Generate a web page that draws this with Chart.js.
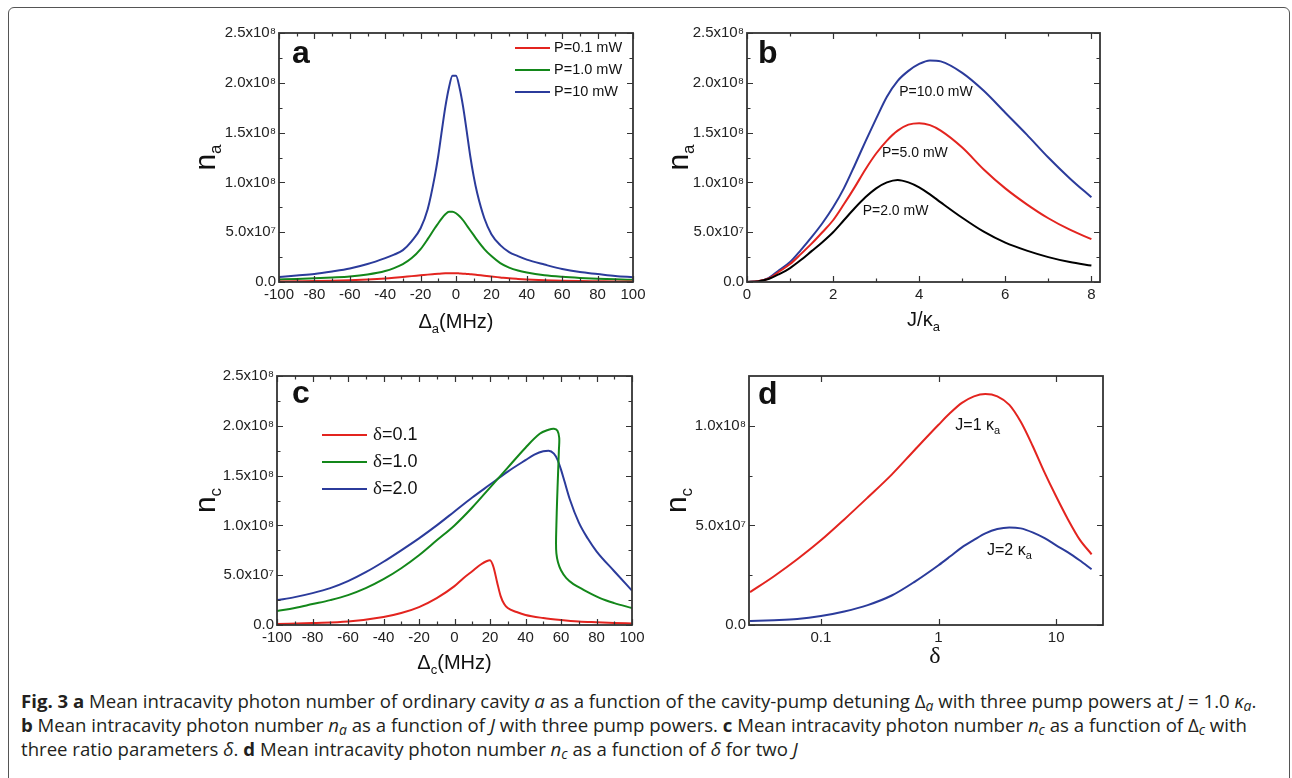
<!DOCTYPE html>
<html>
<head>
<meta charset="utf-8">
<script src="https://cdn.jsdelivr.net/npm/chart.js@4.4.1/dist/chart.umd.min.js"></script>
<style>
body { margin: 0; background: #fff; width: 1292px; height: 778px; overflow: hidden; position: relative; }
#frame { position: absolute; left: 8px; top: 7px; width: 1282px; height: 820px; border: 1.5px solid #555; border-radius: 6px; box-sizing: border-box; }
canvas { position: absolute; }
#cap { position: absolute; left: 21px; top: 689px; font-family: "Open Sans", "Noto Sans", sans-serif; font-size: 18.6px; line-height: 24px; color: #231f20; white-space: nowrap; }
#cap b { font-weight: 700; }
#cap sub { font-size: 0.75em; line-height: 0; vertical-align: -0.25em; }
</style>
</head>
<body>
<div id="frame"></div>
<canvas id="pa" width="470" height="330" style="left:180px;top:15px"></canvas>
<canvas id="pb" width="460" height="330" style="left:660px;top:15px"></canvas>
<canvas id="pc" width="470" height="330" style="left:180px;top:358px"></canvas>
<canvas id="pd" width="460" height="330" style="left:660px;top:358px"></canvas>
<div id="cap">
<div><b>Fig. 3 a</b> Mean intracavity photon number of ordinary cavity <i>a</i> as a function of the cavity-pump detuning &Delta;<sub><i>a</i></sub> with three pump powers at <i>J</i> = 1.0 <i>&kappa;<sub>a</sub></i>.</div>
<div><b>b</b> Mean intracavity photon number <i>n<sub>a</sub></i> as a function of <i>J</i> with three pump powers. <b>c</b> Mean intracavity photon number <i>n<sub>c</sub></i> as a function of &Delta;<sub><i>c</i></sub> with</div>
<div>three ratio parameters <i>&delta;</i>. <b>d</b> Mean intracavity photon number <i>n<sub>c</sub></i> as a function of <i>&delta;</i> for two <i>J</i></div>
</div>
<script>
// photon numbers below are in units of 1e8
var SC = 1e8;

// a: n_a vs detuning, three pump powers
var detA = [-100, -90, -80, -70, -60, -50, -40, -35, -30, -25, -20, -16, -12, -10, -8, -6, -4, -2, 0, 2, 4, 6, 8, 10, 12, 16, 20, 25, 30, 35, 40, 50, 60, 70, 80, 90, 100];
var naP01 = [0.006, 0.008, 0.010, 0.013, 0.018, 0.025, 0.035, 0.042, 0.050, 0.059, 0.067, 0.074, 0.080, 0.083, 0.086, 0.088, 0.089, 0.089, 0.088, 0.086, 0.084, 0.081, 0.078, 0.075, 0.071, 0.063, 0.055, 0.046, 0.037, 0.031, 0.026, 0.018, 0.013, 0.010, 0.008, 0.006, 0.005];
var naP1 = [0.025, 0.030, 0.037, 0.045, 0.055, 0.075, 0.11, 0.14, 0.18, 0.24, 0.33, 0.43, 0.54, 0.59, 0.64, 0.68, 0.705, 0.705, 0.69, 0.66, 0.62, 0.57, 0.52, 0.47, 0.42, 0.33, 0.26, 0.19, 0.145, 0.115, 0.095, 0.068, 0.052, 0.041, 0.033, 0.027, 0.022];
var naP10 = [0.05, 0.065, 0.08, 0.105, 0.135, 0.18, 0.24, 0.275, 0.32, 0.41, 0.54, 0.73, 1.06, 1.27, 1.52, 1.76, 1.95, 2.07, 2.07, 1.95, 1.76, 1.52, 1.27, 1.06, 0.89, 0.64, 0.48, 0.37, 0.30, 0.26, 0.225, 0.175, 0.13, 0.10, 0.08, 0.06, 0.048];

// b: n_a vs J/kappa_a
var jRatio = [0, 0.25, 0.5, 0.75, 1, 1.25, 1.5, 1.75, 2, 2.25, 2.5, 2.75, 3, 3.25, 3.5, 3.75, 4, 4.25, 4.5, 5, 5.5, 6, 6.5, 7, 7.5, 8];
var nbP2 = [0, 0.006, 0.03, 0.08, 0.14, 0.22, 0.31, 0.40, 0.50, 0.62, 0.74, 0.85, 0.94, 1.00, 1.025, 1.00, 0.95, 0.88, 0.80, 0.645, 0.505, 0.395, 0.315, 0.25, 0.20, 0.165];
var nbP5 = [0, 0.007, 0.035, 0.105, 0.18, 0.28, 0.385, 0.50, 0.62, 0.78, 0.95, 1.13, 1.29, 1.42, 1.52, 1.58, 1.595, 1.575, 1.52, 1.35, 1.13, 0.94, 0.78, 0.64, 0.525, 0.43];
var nbP10 = [0, 0.008, 0.04, 0.12, 0.20, 0.32, 0.45, 0.59, 0.75, 0.94, 1.17, 1.41, 1.64, 1.86, 2.02, 2.12, 2.19, 2.225, 2.215, 2.10, 1.92, 1.70, 1.48, 1.25, 1.04, 0.85];

// c: n_c vs detuning, three ratios delta
var detC01 = [-100, -80, -60, -40, -30, -20, -10, 0, 5, 10, 15, 18, 20, 22, 24, 26, 28, 30, 35, 40, 50, 60, 70, 80, 90, 100];
var ncD01 = [0.01, 0.02, 0.035, 0.08, 0.12, 0.18, 0.27, 0.39, 0.47, 0.54, 0.61, 0.64, 0.65, 0.58, 0.43, 0.29, 0.21, 0.17, 0.13, 0.10, 0.07, 0.05, 0.035, 0.027, 0.02, 0.015];
var detC1 = [-100, -90, -80, -70, -60, -50, -40, -30, -20, -10, 0, 10, 20, 30, 40, 48, 53, 56, 58, 59, 58.8, 58.3, 57.8, 57.4, 57.2, 57.4, 58.3, 60, 63, 67, 72, 82, 90, 100];
var ncD1 = [0.14, 0.17, 0.21, 0.25, 0.30, 0.37, 0.46, 0.57, 0.70, 0.85, 1.00, 1.18, 1.38, 1.58, 1.78, 1.92, 1.96, 1.97, 1.95, 1.88, 1.75, 1.50, 1.25, 1.00, 0.82, 0.72, 0.63, 0.55, 0.47, 0.41, 0.36, 0.27, 0.22, 0.17];
var detC2 = [-100, -90, -80, -70, -60, -50, -40, -30, -20, -10, 0, 10, 20, 30, 40, 45, 50, 53, 56, 58, 60, 62, 65, 70, 75, 80, 90, 100];
var ncD2 = [0.25, 0.28, 0.32, 0.37, 0.44, 0.53, 0.635, 0.75, 0.87, 1.00, 1.14, 1.28, 1.41, 1.54, 1.655, 1.71, 1.745, 1.75, 1.72, 1.66, 1.56, 1.44, 1.26, 1.03, 0.87, 0.74, 0.54, 0.345];

// d: n_c vs delta (log axis), two couplings J
var delta = [0.025, 0.04, 0.063, 0.1, 0.158, 0.25, 0.4, 0.63, 1, 1.26, 1.58, 2, 2.5, 3.16, 4, 5, 6.3, 7.9, 10, 12.6, 15.8, 20];
var ndJ1 = [0.165, 0.245, 0.33, 0.425, 0.53, 0.64, 0.755, 0.88, 1.005, 1.065, 1.115, 1.148, 1.16, 1.148, 1.105, 1.02, 0.90, 0.77, 0.645, 0.53, 0.43, 0.355];
var ndJ2 = [0.02, 0.024, 0.03, 0.045, 0.068, 0.10, 0.148, 0.218, 0.30, 0.345, 0.39, 0.427, 0.46, 0.482, 0.49, 0.485, 0.465, 0.437, 0.40, 0.365, 0.325, 0.28];

// ticks
var yTicks = [0, 0.5, 1.0, 1.5, 2.0, 2.5];
var yMinor = [0.25, 0.75, 1.25, 1.75, 2.25];
var yTicksD = [0, 0.5, 1.0];
var yMinorD = [0.25, 0.75];
var detTicks = [-100, -80, -60, -40, -20, 0, 20, 40, 60, 80, 100];
var detMinor = [-90, -70, -50, -30, -10, 10, 30, 50, 70, 90];
var jTicks = [0, 2, 4, 6, 8];
var jMinor = [1, 3, 5, 7];
var deltaTicks = [0.1, 1, 10];

var RED = '#e3241f', GREEN = '#13871a', BLUE = '#2b3b9b', BLACK = '#000';
var SANS = '"Liberation Sans", Arial, sans-serif';
var SERIF = '"Liberation Serif", "DejaVu Serif", serif';

Chart.defaults.font.family = SANS;
Chart.defaults.color = '#222';

var SUP = '⁰¹²³⁴⁵⁶⁷⁸⁹';
function sci(v) {
    if (v === 0) return '0.0';
    var e = Math.floor(Math.log10(v) + 1e-9);
    var m = v / Math.pow(10, e);
    return m.toFixed(1) + 'x10' + String(e).split('').map(function (c) { return SUP[+c]; }).join('');
}

function pts(xs, ys) {
    return xs.map(function (x, i) { return { x: x, y: ys[i] * SC }; });
}

function rich(ctx, parts, x, y, align) {
    var w = 0;
    parts.forEach(function (p) {
        ctx.font = (p.b ? 'bold ' : '') + p.s + 'px ' + (p.f || SANS);
        w += ctx.measureText(p.t).width;
    });
    var cx = align === 'center' ? x - w / 2 : x;
    parts.forEach(function (p) {
        ctx.font = (p.b ? 'bold ' : '') + p.s + 'px ' + (p.f || SANS);
        ctx.fillText(p.t, cx, y + (p.dy || 0));
        cx += ctx.measureText(p.t).width;
    });
}

// frame, inward ticks, titles, legend and in-plot labels
var deco = {
    id: 'deco',
    afterDatasetsDraw: function (chart, args, o) {
        var ctx = chart.ctx, a = chart.chartArea, sx = chart.scales.x, sy = chart.scales.y;
        ctx.save();
        ctx.strokeStyle = '#333';
        ctx.lineWidth = 1.2;
        function xt(vals, len) {
            vals.forEach(function (v) {
                var p = Math.round(sx.getPixelForValue(v)) + 0.5;
                ctx.beginPath();
                ctx.moveTo(p, a.bottom); ctx.lineTo(p, a.bottom - len);
                ctx.moveTo(p, a.top); ctx.lineTo(p, a.top + len);
                ctx.stroke();
            });
        }
        function yt(vals, len) {
            vals.forEach(function (v) {
                var p = Math.round(sy.getPixelForValue(v * SC)) + 0.5;
                ctx.beginPath();
                ctx.moveTo(a.left, p); ctx.lineTo(a.left + len, p);
                ctx.moveTo(a.right, p); ctx.lineTo(a.right - len, p);
                ctx.stroke();
            });
        }
        xt(o.xMajor, 6); xt(o.xMinor || [], 3.5);
        yt(o.yMajor, 6); yt(o.yMinor || [], 3.5);
        ctx.lineWidth = 1.8;
        ctx.strokeRect(a.left, a.top, a.right - a.left, a.bottom - a.top);

        ctx.fillStyle = '#111';
        ctx.textBaseline = 'alphabetic';
        ctx.textAlign = 'left';
        // panel letter
        ctx.font = 'bold 32px ' + SANS;
        ctx.fillText(o.letter, a.left + o.letterDx, a.top + o.letterDy);
        // x title
        rich(ctx, o.xTitle, (a.left + a.right) / 2 + (o.xTitleDx || 0), a.bottom + o.xTitleDy, 'center');
        // y title
        ctx.save();
        ctx.translate(a.left + o.yTitleDx, (a.top + a.bottom) / 2);
        ctx.rotate(-Math.PI / 2);
        rich(ctx, o.yTitle, 0, 0, 'center');
        ctx.restore();
        // legend
        if (o.legend) {
            o.legend.rows.forEach(function (r) {
                var yy = a.top + r.y;
                ctx.strokeStyle = r.color;
                ctx.lineWidth = 2;
                ctx.beginPath();
                ctx.moveTo(a.left + o.legend.x0, yy);
                ctx.lineTo(a.left + o.legend.x1, yy);
                ctx.stroke();
                ctx.textBaseline = 'middle';
                rich(ctx, r.parts, a.left + o.legend.tx, yy, 'left');
                ctx.textBaseline = 'alphabetic';
            });
        }
        // labels placed at data coordinates
        (o.notes || []).forEach(function (n) {
            rich(ctx, n.parts, sx.getPixelForValue(n.x), sy.getPixelForValue(n.y * SC), n.align);
        });
        ctx.restore();
    }
};

function panel(id, datasets, c) {
    return new Chart(document.getElementById(id), {
        type: 'scatter',
        data: { datasets: datasets },
        options: {
            responsive: false,
            animation: false,
            devicePixelRatio: 1,
            layout: { padding: { top: 18, right: c.padR, left: 0, bottom: 0 } },
            elements: { point: { radius: 0 }, line: { borderWidth: 2, fill: false } },
            plugins: { legend: { display: false }, tooltip: { enabled: false }, deco: c.deco },
            scales: {
                x: {
                    type: c.xType || 'linear',
                    min: c.xMin, max: c.xMax,
                    grid: { display: false, drawTicks: false },
                    border: { display: false },
                    ticks: { padding: 4, color: '#222', font: { size: 15 }, maxRotation: 0, autoSkip: false,
                        callback: function (v) { return String(v); } },
                    afterBuildTicks: function (s) { s.ticks = c.xTicks.map(function (v) { return { value: v }; }); },
                    afterFit: function (s) { s.height = 63; }
                },
                y: {
                    min: 0, max: c.yMax * SC,
                    grid: { display: false, drawTicks: false },
                    border: { display: false },
                    ticks: { padding: 3, color: '#222', font: { size: 15 }, autoSkip: false, callback: sci },
                    afterBuildTicks: function (s) { s.ticks = c.yTicks.map(function (v) { return { value: v * SC }; }); },
                    afterFit: function (s) { s.width = c.yW; }
                }
            }
        },
        plugins: [deco]
    });
}

function line(xs, ys, color, smooth) {
    var d = { data: pts(xs, ys), borderColor: color, showLine: true, borderWidth: 2 };
    if (smooth === 'free') d.tension = 0.35; else { d.tension = 0.4; d.cubicInterpolationMode = 'monotone'; }
    return d;
}

panel('pa', [
    line(detA, naP01, RED), line(detA, naP1, GREEN), line(detA, naP10, BLUE)
], {
    padR: 17, yW: 99, xMin: -100, xMax: 100, yMax: 2.5, xTicks: detTicks, yTicks: yTicks,
    deco: {
        letter: 'a', letterDx: 13, letterDy: 30,
        xMajor: detTicks, xMinor: detMinor, yMajor: yTicks, yMinor: yMinor,
        xTitle: [{ t: 'Δ', s: 20 }, { t: 'a', s: 13, dy: 5 }, { t: '(MHz)', s: 20 }], xTitleDy: 46,
        yTitle: [{ t: 'n', s: 30 }, { t: 'a', s: 17, dy: 6 }], yTitleDx: -64,
        legend: { x0: 236, x1: 271, tx: 275, rows: [
            { y: 15, color: RED, parts: [{ t: 'P=0.1 mW', s: 14.5 }] },
            { y: 37, color: GREEN, parts: [{ t: 'P=1.0 mW', s: 14.5 }] },
            { y: 59, color: BLUE, parts: [{ t: 'P=10 mW', s: 14.5 }] }
        ] }
    }
});

panel('pb', [
    line(jRatio, nbP2, BLACK), line(jRatio, nbP5, RED), line(jRatio, nbP10, BLUE)
], {
    padR: 20, yW: 87, xMin: 0, xMax: 8.2, yMax: 2.5, xTicks: jTicks, yTicks: yTicks,
    deco: {
        letter: 'b', letterDx: 11, letterDy: 30,
        xMajor: jTicks, xMinor: jMinor, yMajor: yTicks, yMinor: yMinor,
        xTitle: [{ t: 'J/κ', s: 20 }, { t: 'a', s: 13, dy: 5 }], xTitleDy: 44,
        yTitle: [{ t: 'n', s: 30 }, { t: 'a', s: 17, dy: 6 }], yTitleDx: -59,
        notes: [
            { x: 4.39, y: 1.865, align: 'center', parts: [{ t: 'P=10.0 mW', s: 14 }] },
            { x: 3.9, y: 1.255, align: 'center', parts: [{ t: 'P=5.0 mW', s: 14 }] },
            { x: 3.45, y: 0.672, align: 'center', parts: [{ t: 'P=2.0 mW', s: 14 }] }
        ]
    }
});

panel('pc', [
    line(detC01, ncD01, RED), line(detC1, ncD1, GREEN, 'free'), line(detC2, ncD2, BLUE)
], {
    padR: 18, yW: 97, xMin: -100, xMax: 100, yMax: 2.5, xTicks: detTicks, yTicks: yTicks,
    deco: {
        letter: 'c', letterDx: 15, letterDy: 27,
        xMajor: detTicks, xMinor: detMinor, yMajor: yTicks, yMinor: yMinor,
        xTitle: [{ t: 'Δ', s: 20 }, { t: 'c', s: 13, dy: 5 }, { t: '(MHz)', s: 20 }], xTitleDy: 44,
        yTitle: [{ t: 'n', s: 30 }, { t: 'c', s: 17, dy: 6 }], yTitleDx: -62,
        legend: { x0: 45, x1: 90, tx: 96, rows: [
            { y: 59, color: RED, parts: [{ t: 'δ', s: 19, f: SERIF }, { t: '=0.1', s: 18 }] },
            { y: 86, color: GREEN, parts: [{ t: 'δ', s: 19, f: SERIF }, { t: '=1.0', s: 18 }] },
            { y: 113, color: BLUE, parts: [{ t: 'δ', s: 19, f: SERIF }, { t: '=2.0', s: 18 }] }
        ] }
    }
});

panel('pd', [
    line(delta, ndJ1, RED), line(delta, ndJ2, BLUE)
], {
    padR: 17, yW: 89, xType: 'logarithmic', xMin: 0.0245, xMax: 25, yMax: 1.25, xTicks: deltaTicks, yTicks: yTicksD,
    deco: {
        letter: 'd', letterDx: 9, letterDy: 28,
        xMajor: deltaTicks, xMinor: [], yMajor: yTicksD, yMinor: yMinorD,
        xTitle: [{ t: 'δ', s: 24, f: SERIF }], xTitleDy: 38, xTitleDx: 9,
        yTitle: [{ t: 'n', s: 30 }, { t: 'c', s: 17, dy: 6 }], yTitleDx: -63,
        notes: [
            { x: 1.39, y: 0.978, align: 'left', parts: [{ t: 'J=1 κ', s: 16 }, { t: 'a', s: 11, dy: 4 }] },
            { x: 2.58, y: 0.351, align: 'left', parts: [{ t: 'J=2 κ', s: 16 }, { t: 'a', s: 11, dy: 4 }] }
        ]
    }
});
</script>
</body>
</html>
